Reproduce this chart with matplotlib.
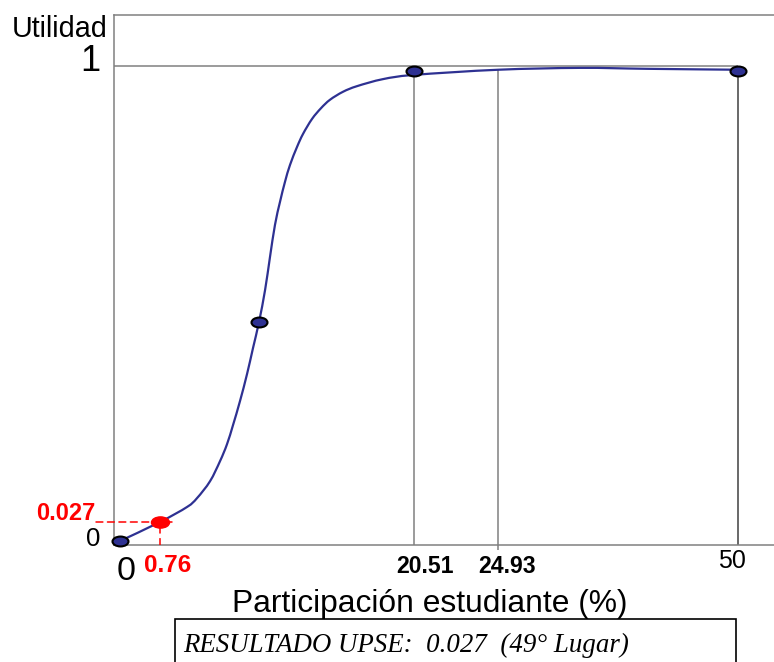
import numpy as np
import matplotlib
matplotlib.use('Agg')
import matplotlib.pyplot as plt
from matplotlib.path import Path
from matplotlib.patches import Rectangle, PathPatch

# --- data ---
curve_x = [0, 0.76, 2.86, 3.64, 4.65, 5.43, 5.97, 6.44, 6.98, 7.53, 7.99,
           8.46, 8.93, 9.31, 9.70, 10.09, 10.48, 10.87, 11.41, 11.88, 12.58,
           13.28, 13.98, 14.99, 16.08, 18.10, 20.51, 24.93, 33.5, 40.5, 50]
curve_y = [0, 0.027, 0.059, 0.078, 0.114, 0.157, 0.193, 0.234, 0.285, 0.343,
           0.398, 0.454, 0.522, 0.592, 0.661, 0.710, 0.753, 0.789, 0.827,
           0.855, 0.887, 0.910, 0.928, 0.945, 0.957, 0.972, 0.981, 0.992,
           0.996, 0.994, 0.992]
point_x = [0, 8.46, 20.51, 50]
point_y = [0, 0.454, 0.99, 0.99]
upse_x = 0.76
upse_y = 0.027
marked_x = [20.51, 24.93]
util_max = 1
x_ticks = ['0', '0.76', '20.51', '24.93', '50']
y_ticks = ['0', '1']
x_label = 'Participación estudiante (%)'
y_label = 'Utilidad'
result_text = 'RESULTADO UPSE:  0.027  (49° Lugar)'

# --- layout: the drawing is schematic, so the axes use a piecewise scale ---
X_VAL = [-10, 0, 0.76, 20.51, 24.93, 50, 100]
X_PIX = [-406, 120, 160, 414, 498, 738, 1218]
Y_VAL = [-1, 0, 0.027, 1, 2]
Y_PIX = [-583, 121, 140, 596, 1065]


def fwd_x(v):
    return np.interp(v, X_VAL, X_PIX)


def inv_x(p):
    return np.interp(p, X_PIX, X_VAL)


def fwd_y(v):
    return np.interp(v, Y_VAL, Y_PIX)


def inv_y(p):
    return np.interp(p, Y_PIX, Y_VAL)


def smooth_path(xs, ys):
    # smoothed line (bezier through the points), built in scale space
    p = np.column_stack([fwd_x(np.asarray(xs)), fwd_y(np.asarray(ys))])
    ext = np.vstack([p[0], p, p[-1]])
    verts = [p[0]]
    codes = [Path.MOVETO]
    for i in range(len(p) - 1):
        c1 = ext[i + 1] + (ext[i + 2] - ext[i]) / 6
        c2 = ext[i + 2] - (ext[i + 3] - ext[i + 1]) / 6
        verts += [c1, c2, ext[i + 2]]
        codes += [Path.CURVE4] * 3
    verts = np.array(verts)
    verts = np.column_stack([inv_x(verts[:, 0]), inv_y(verts[:, 1])])
    return Path(verts, codes)


plt.rcParams['font.family'] = ['Liberation Sans', 'DejaVu Sans']

W, H = 774, 662
fig = plt.figure(figsize=(W / 100, H / 100), dpi=100)
ax = fig.add_axes([114 / W, 117 / H, 660 / W, 530 / H])
ax.set_xscale('function', functions=(fwd_x, inv_x))
ax.set_yscale('function', functions=(fwd_y, inv_y))

blue = '#2e3192'
grey = '#808080'

circ = Path.unit_circle()
ellipse = Path(circ.vertices * [1, 0.62], circ.codes)

ax.add_patch(PathPatch(smooth_path(curve_x, curve_y), fill=False, ec=blue,
                       lw=1.6, zorder=3))
ax.plot(point_x, point_y, ls='none', marker=ellipse, ms=11.5, mfc=blue,
        mec='black', mew=1.5, zorder=4, clip_on=False)
ax.plot([upse_x], [upse_y], ls='none', marker=ellipse, ms=13, mfc='red',
        mec='red', zorder=5)

ax.set_xlim(inv_x(114), inv_x(774))
ax.set_ylim(inv_y(117), inv_y(647))
x0, x1 = ax.get_xlim()
y0, y1 = ax.get_ylim()

# reference lines
ax.hlines(util_max, x0, point_x[-1], colors=grey, lw=1.1, zorder=2)
ax.vlines(marked_x[0], y0, util_max, colors=grey, lw=1.1, zorder=2)
ax.vlines(marked_x[1], inv_y(112), np.interp(marked_x[1], curve_x, curve_y),
          colors=grey, lw=1.1, zorder=2, clip_on=False)
ax.vlines(point_x[-1], y0, util_max, colors='#404040', lw=1.1, zorder=2)

# red guide lines for the UPSE result
dash = (0, (4.5, 3))
ax.vlines(upse_x, y0, upse_y, colors='red', lw=1.1, linestyles=[dash], zorder=3)
for dx in (-64, 12):
    ax.annotate('', xy=(upse_x, upse_y), xytext=(dx, 0),
                textcoords='offset pixels', annotation_clip=False,
                arrowprops=dict(arrowstyle='-', color='red', lw=1.1,
                                linestyle=dash, shrinkA=0, shrinkB=0))

for s in ('left', 'top', 'bottom'):
    ax.spines[s].set_color(grey)
    ax.spines[s].set_linewidth(1.1)
ax.spines['right'].set_visible(False)
ax.set_xticks([])
ax.set_yticks([])
ax.set_xticks([], minor=True)
ax.set_yticks([], minor=True)

# tick labels
x_label_pos = [0, upse_x, marked_x[0], marked_x[1], point_x[-1]]
x_style = [dict(offset=(6, -35), size=24.5, color='black', weight='normal'),
           dict(offset=(8, -27), size=17.5, color='red', weight='bold'),
           dict(offset=(11, -28), size=16.6, color='black', weight='bold'),
           dict(offset=(9, -28), size=16.6, color='black', weight='bold'),
           dict(offset=(-6, -23), size=18, color='black', weight='normal')]
for val, txt, st in zip(x_label_pos, x_ticks, x_style):
    ax.annotate(txt, xy=(val, y0), xytext=st['offset'],
                textcoords='offset pixels', ha='center', va='baseline',
                fontsize=st['size'], color=st['color'],
                fontweight=st['weight'], annotation_clip=False)

ax.annotate(y_ticks[0], xy=(x0, 0), xytext=(-21, -5), textcoords='offset pixels',
            ha='center', va='baseline', fontsize=18.5, annotation_clip=False)
ax.annotate(y_ticks[1], xy=(x0, util_max), xytext=(-24, -5),
            textcoords='offset pixels', ha='center', va='baseline',
            fontsize=26, annotation_clip=False)
ax.annotate('0.027', xy=(upse_x, upse_y), xytext=(-65, 2),
            textcoords='offset pixels', ha='right', va='baseline',
            fontsize=17, color='red', fontweight='bold', annotation_clip=False)
ax.annotate(y_label, xy=(0, 1), xycoords='axes fraction', xytext=(-6, -22),
            textcoords='offset pixels', ha='right', va='baseline',
            fontsize=20.7, annotation_clip=False)

fig.text(430 / W, 1 - 612 / H, x_label, ha='center', va='baseline', fontsize=22.9)

fig.add_artist(Rectangle((175 / W, -0.1), (736 - 175) / W, (H - 619) / H + 0.1,
                         transform=fig.transFigure, fill=False, ec='black',
                         lw=1.2))
fig.text(183 / W, 1 - 652 / H, result_text, ha='left', va='baseline',
         fontsize=19.4, style='italic', family=['Liberation Serif', 'DejaVu Serif'])

fig.savefig('out.png', dpi=100)
